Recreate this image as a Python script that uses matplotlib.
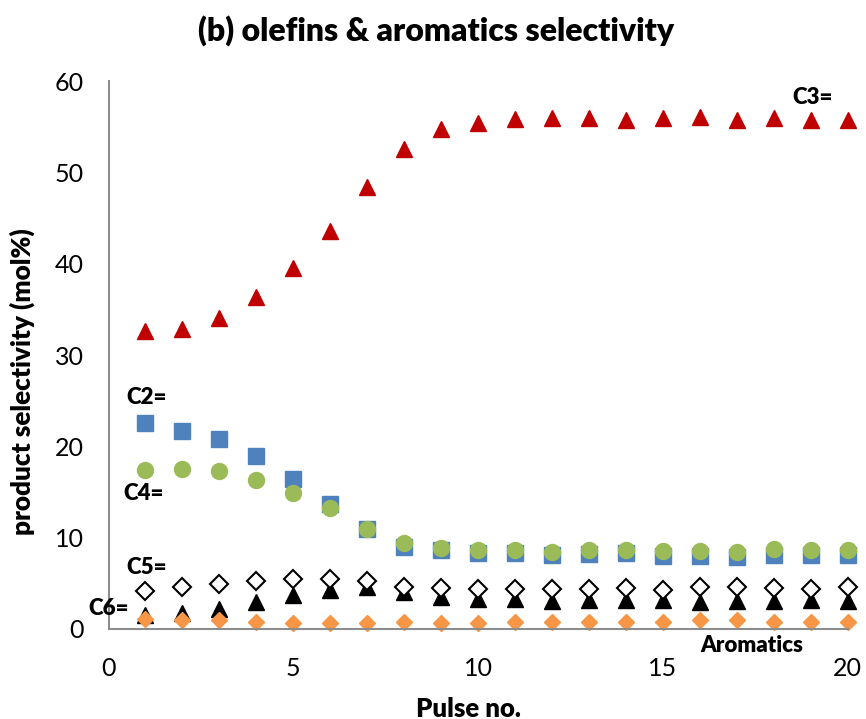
import matplotlib.pyplot as plt
import numpy as np

plt.rcParams['font.family'] = ['Lato', 'DejaVu Sans']

pulse = np.arange(1, 21)
c3 = [32.6, 32.9, 34.1, 36.4, 39.5, 43.6, 48.4, 52.6, 54.7, 55.4,
      55.8, 55.9, 56.0, 55.7, 55.9, 56.1, 55.7, 56.0, 55.7, 55.7]
c2 = [22.5, 21.7, 20.8, 18.9, 16.4, 13.7, 10.95, 9.0, 8.6, 8.3,
      8.3, 8.1, 8.25, 8.3, 8.0, 8.0, 7.85, 8.15, 8.15, 8.15]
c4 = [17.4, 17.5, 17.3, 16.3, 14.9, 13.2, 10.9, 9.4, 8.9, 8.7,
      8.7, 8.4, 8.6, 8.6, 8.55, 8.5, 8.4, 8.75, 8.7, 8.65]
c5 = [4.2, 4.65, 4.9, 5.2, 5.45, 5.45, 5.25, 4.6, 4.45, 4.4,
      4.35, 4.35, 4.35, 4.45, 4.25, 4.55, 4.55, 4.45, 4.35, 4.55]
c6 = [1.5, 1.7, 2.15, 2.9, 3.7, 4.25, 4.6, 4.1, 3.55, 3.3,
      3.25, 3.05, 3.15, 3.15, 3.15, 2.95, 3.05, 3.05, 3.15, 3.05]
aromatics = [1.05, 1.0, 0.95, 0.8, 0.7, 0.65, 0.65, 0.75, 0.7, 0.7,
             0.8, 0.8, 0.8, 0.8, 0.8, 0.95, 0.95, 0.8, 0.8, 0.75]

fig = plt.figure(figsize=(8.66, 7.19), dpi=100)
ax = fig.add_axes([0.1253, 0.1252, 0.979 - 0.1253, 0.8873 - 0.1252])

kw = dict(linestyle='none', clip_on=False)
ax.plot(pulse, c3, marker='^', markersize=11.5, color='#C00000', **kw)
ax.plot(pulse, c2, marker='s', markersize=11.3, color='#4F81BD', **kw)
ax.plot(pulse, c4, marker='o', markersize=11.5, color='#9BBB59', **kw)
ax.plot(pulse, c6, marker='^', markersize=11.5, color='black', **kw)
ax.plot(pulse, c5, marker='D', markersize=9.2, markerfacecolor='white',
        markeredgecolor='black', markeredgewidth=1.5, **kw)
ax.plot(pulse, aromatics, marker='D', markersize=8, color='#F79646', **kw)

# series names written next to the points
lab = dict(fontsize=16, fontweight='heavy', ha='center', va='center',
           clip_on=False)
ax.text(19.05, 58.2, 'C3=', **lab)
ax.text(1.02, 25.3, 'C2=', **lab)
ax.text(0.95, 14.8, 'C4=', **lab)
ax.text(1.02, 6.7, 'C5=', **lab)
ax.text(0.0, 2.2, 'C6=', **lab)
ax.text(17.39, -1.83, 'Aromatics', **lab)

ax.set_xlim(0, 20)
ax.set_ylim(0, 60)
ax.set_xticks([0, 5, 10, 15, 20])
ax.set_yticks(range(0, 61, 10))
ax.tick_params(length=0, labelsize=18, colors='black')
ax.tick_params(axis='y', pad=18)
ax.tick_params(axis='x', pad=20)

for side in ['top', 'right']:
    ax.spines[side].set_visible(False)
for side in ['left', 'bottom']:
    ax.spines[side].set_color('#8C8C8C')
    ax.spines[side].set_linewidth(1.5)

ax.set_xlabel('Pulse no.', fontsize=18.5, fontweight='heavy')
ax.xaxis.set_label_coords(0.4875, -0.1235)
ax.set_ylabel('product selectivity (mol%)', fontsize=18.8, fontweight='heavy')
ax.yaxis.set_label_coords(-0.0994, 0.4507)
fig.text(0.503, 0.958, '(b) olefins & aromatics selectivity', fontsize=23,
         fontweight='heavy', ha='center', va='center')

fig.savefig('out.png', dpi=100)
